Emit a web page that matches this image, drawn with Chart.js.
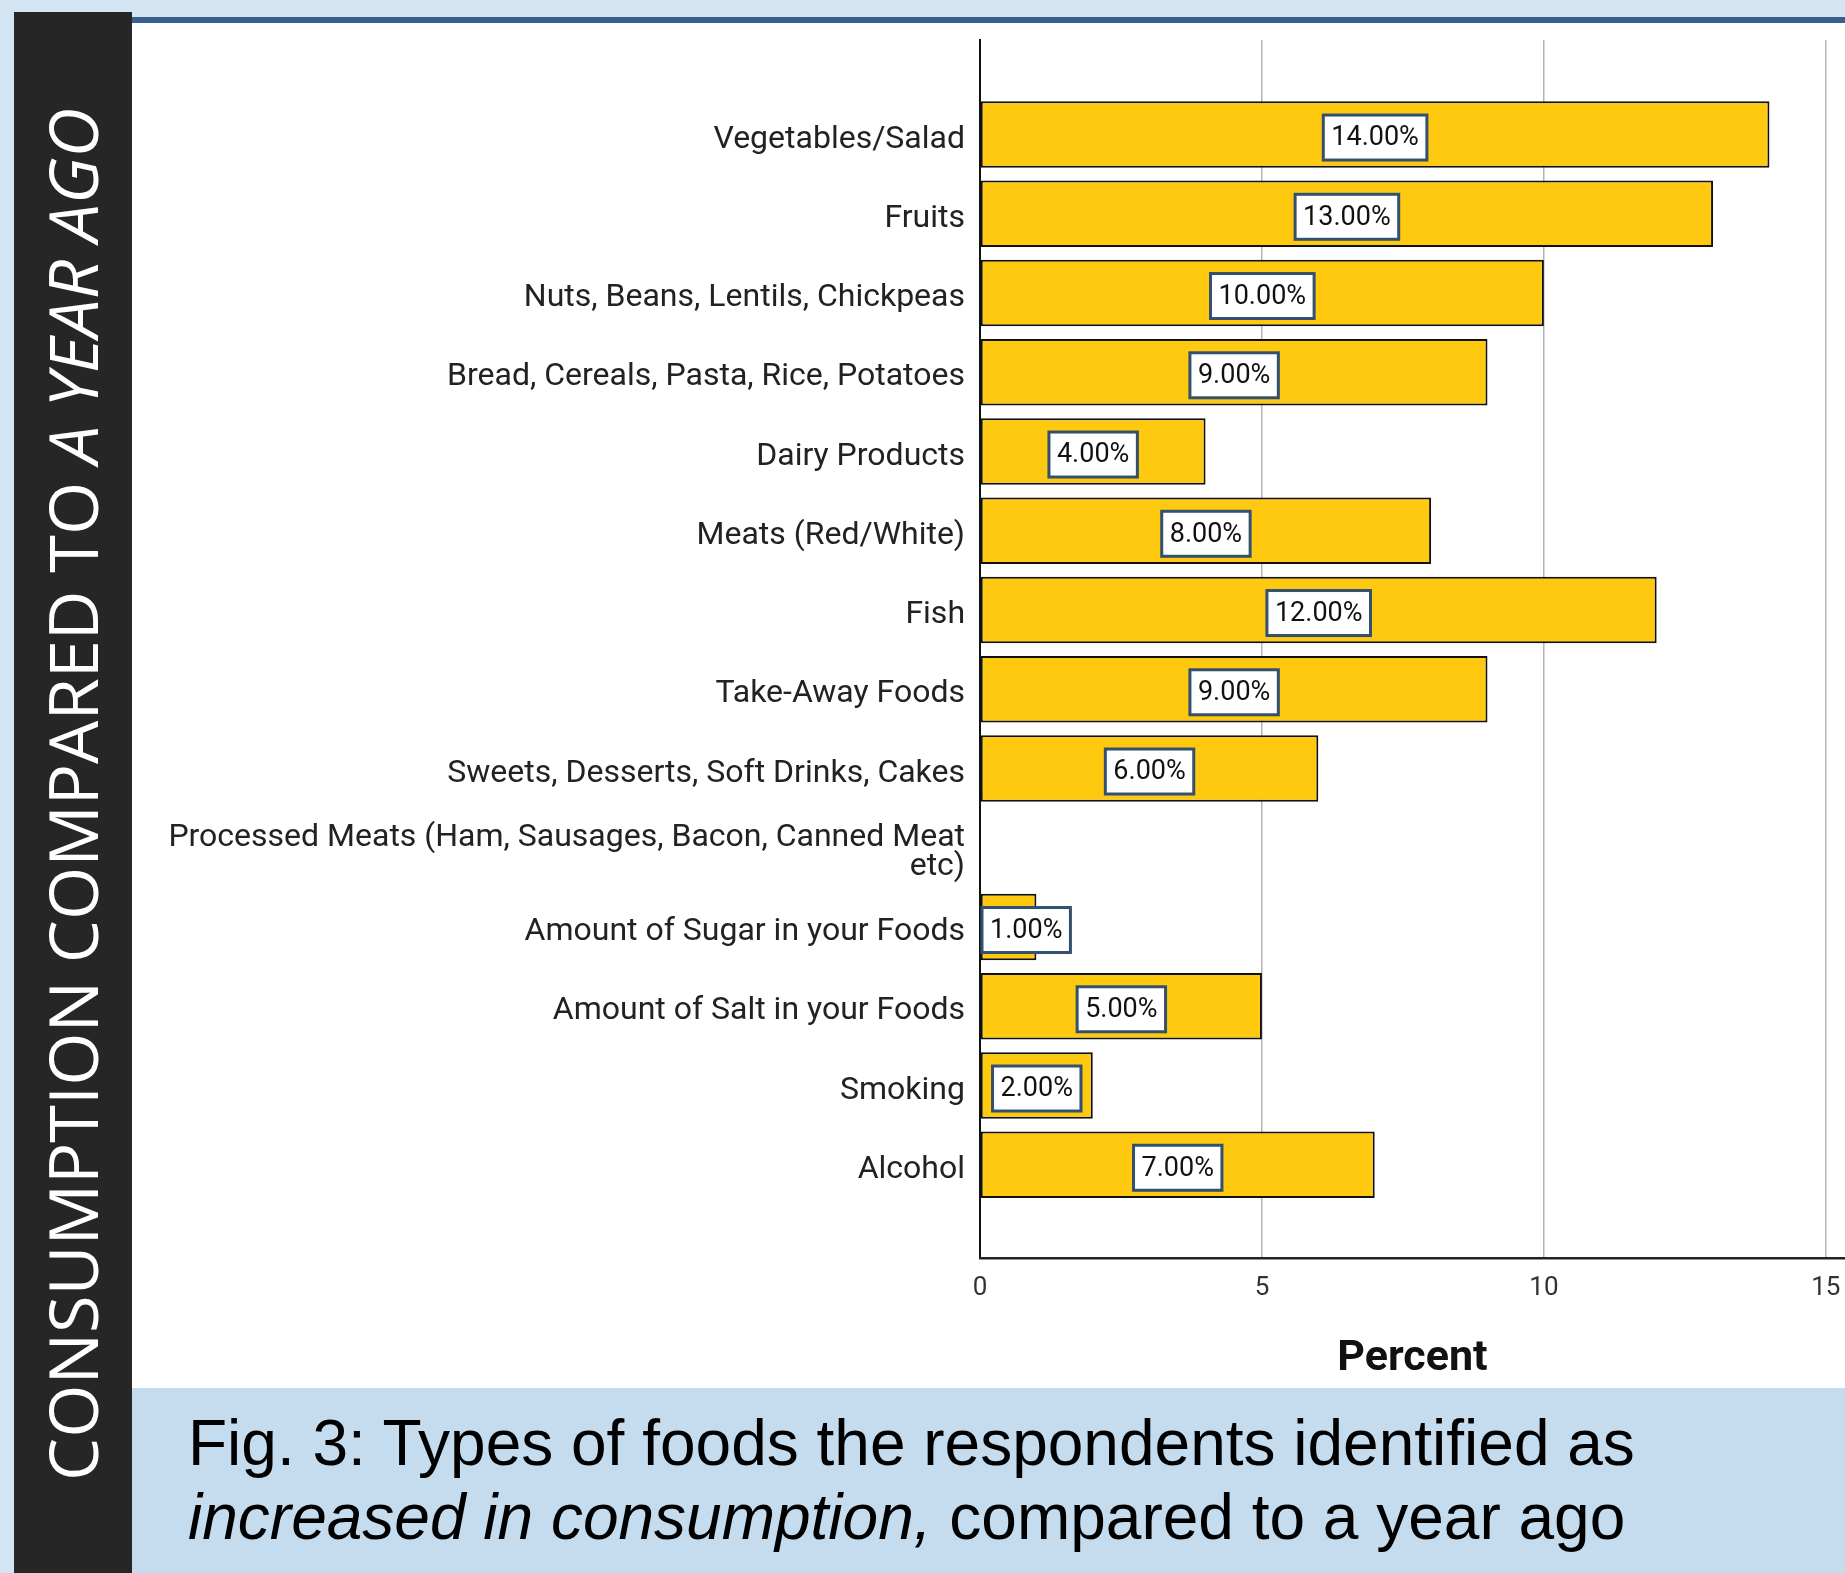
<!DOCTYPE html>
<html>
<head>
<meta charset="utf-8">
<script src="https://cdn.jsdelivr.net/npm/chart.js@4/dist/chart.umd.min.js"></script>
<style>
  body { margin: 0; width: 1845px; height: 1573px; overflow: hidden; background: #d3e4f2; position: relative; }
  #band { position: absolute; left: 14px; top: 12px; width: 118px; height: 1561px; background: #262626; }
  #vtext { position: absolute; left: 38px; top: 1481px; transform: rotate(-90deg); transform-origin: left top;
    font-family: 'Open Sans', sans-serif; font-size: 68.5px; line-height: 1; color: #fff; white-space: nowrap; }
  #topline { position: absolute; left: 132px; top: 17px; width: 1713px; height: 6px; background: #3a5f8c; }
  #panel { position: absolute; left: 132px; top: 23px; width: 1713px; height: 1365px; background: #fff; }
  #capband { position: absolute; left: 132px; top: 1388px; width: 1713px; height: 185px; background: #c5dcee; }
  #caption { position: absolute; left: 188px; top: 1406px; font-family: 'Liberation Sans', Arial, sans-serif;
    font-size: 64px; line-height: 74px; color: #000; white-space: nowrap; }
  #wrap { position: absolute; left: 0; top: 0; width: 1845px; height: 1573px; }
</style>
</head>
<body>
<div id="band"></div>
<div id="vtext">CONSUMPTION COMPARED TO <i>A YEAR AGO</i></div>
<div id="topline"></div>
<div id="panel"></div>
<div id="capband"></div>
<div id="caption">Fig. 3: Types of foods the respondents identified as<br><i>increased in consumption,</i> compared to a year ago</div>
<div id="wrap"><canvas id="myChart"></canvas></div>
<script>
// categories, top to bottom
var categories = [
    'Vegetables/Salad',
    'Fruits',
    'Nuts, Beans, Lentils, Chickpeas',
    'Bread, Cereals, Pasta, Rice, Potatoes',
    'Dairy Products',
    'Meats (Red/White)',
    'Fish',
    'Take-Away Foods',
    'Sweets, Desserts, Soft Drinks, Cakes',
    ['Processed Meats (Ham, Sausages, Bacon, Canned Meat', 'etc)'],
    'Amount of Sugar in your Foods',
    'Amount of Salt in your Foods',
    'Smoking',
    'Alcohol'
];
var percentValues = [14, 13, 10, 9, 4, 8, 12, 9, 6, 0, 1, 5, 2, 7];
var xTickValues = [0, 5, 10, 15];

var labelFont = 'Roboto, "Liberation Sans", Arial, sans-serif';

// boxed value labels in the middle of each bar
var valueLabels = {
    id: 'valueLabels',
    afterDatasetsDraw: function(chart) {
        var ctx = chart.ctx;
        var meta = chart.getDatasetMeta(0);
        ctx.save();
        ctx.font = '27px ' + labelFont;
        ctx.textBaseline = 'middle';
        ctx.textAlign = 'center';
        meta.data.forEach(function(bar, i) {
            var v = percentValues[i];
            if (!v) return;
            var txt = v.toFixed(2) + '%';
            var w = ctx.measureText(txt).width + 16;
            var h = 45;
            var cx = (bar.x + bar.base) / 2;
            var left = Math.max(cx - w / 2, chart.chartArea.left + 2);
            var top = bar.y - h / 2 + 3;
            ctx.fillStyle = '#fff';
            ctx.fillRect(left, top, w, h);
            ctx.strokeStyle = '#34506f';
            ctx.lineWidth = 3;
            ctx.strokeRect(left, top, w, h);
            ctx.fillStyle = '#111';
            ctx.fillText(txt, left + w / 2, bar.y + 4);
        });
        ctx.restore();
    }
};

var ctx = document.getElementById('myChart').getContext('2d');

var chartConfig = {
    type: 'bar',
    data: {
        datasets: [{
            data: categories.map(function(c, i) { return { x: percentValues[i], y: i }; }),
            backgroundColor: '#fec90f',
            borderColor: '#111',
            borderWidth: 2,
            borderSkipped: false,
            categoryPercentage: 1,
            barPercentage: 0.84
        }]
    },
    options: {
        indexAxis: 'y',
        responsive: false,
        animation: false,
        devicePixelRatio: 1,
        layout: { padding: { top: 40, right: 0, bottom: 185, left: 0 } },
        plugins: { legend: { display: false }, tooltip: { enabled: false } },
        scales: {
            y: {
                type: 'linear',
                reverse: true,
                offset: false,
                min: -1.193,
                max: 14.174,
                afterFit: function(axis) { axis.width = 980; },
                afterBuildTicks: function(axis) {
                    axis.ticks = categories.map(function(c, i) { return { value: i }; });
                },
                grid: { display: false, drawTicks: false },
                border: { display: true, color: '#111', width: 2 },
                ticks: {
                    autoSkip: false,
                    padding: 15,
                    labelOffset: 5,
                    color: '#222',
                    font: { family: labelFont, size: 32, lineHeight: 0.92 },
                    callback: function(value) { return categories[value]; }
                }
            },
            x: {
                type: 'linear',
                min: 0,
                max: 15.34,
                afterBuildTicks: function(axis) {
                    axis.ticks = xTickValues.map(function(v) { return { value: v }; });
                },
                afterFit: function(axis) { axis.paddingLeft = 0; axis.paddingRight = 0; },
                grid: { color: '#b4b4b4', lineWidth: 1.5, drawTicks: false },
                border: { display: true, color: '#222', width: 2.5 },
                ticks: {
                    padding: 15.5,
                    color: '#333',
                    font: { family: labelFont, size: 26 },
                    maxRotation: 0
                },
                title: {
                    display: true,
                    text: 'Percent',
                    color: '#111',
                    font: { family: labelFont, size: 43, weight: 'bold' },
                    padding: { top: 13.4, bottom: 3 }
                }
            }
        }
    },
    plugins: [valueLabels]
};

var canvas = document.getElementById('myChart');
canvas.width = 1845;
canvas.height = 1573;
canvas.style.width = '1845px';
canvas.style.height = '1573px';

var chart = new Chart(ctx, chartConfig);
</script>
</body>
</html>
